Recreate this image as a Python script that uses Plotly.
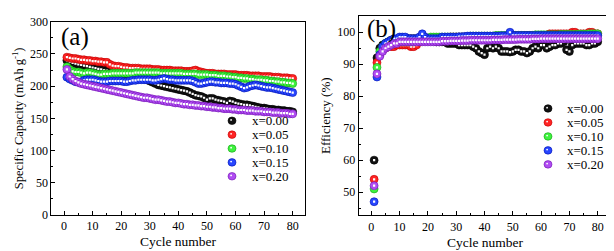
import numpy as np
import plotly.graph_objects as go

cycles = list(range(1, 81))
labels = ["x=0.00", "x=0.05", "x=0.10", "x=0.15", "x=0.20"]
colors = ["#111111", "#ff2424", "#3ef23e", "#2846ff", "#b04cf2"]
edge = ["#000000", "#c00000", "#10a010", "#0010b0", "#7010b0"]

cap_000 = [240,238,236,235,234,233,232,231,230,229,228,227,226,225,224,223,222,221,220,219,
           218,217,216,216,216,217,216,213,210,208,206,204,202,201,200,199,198,197,196,195,
           194,193,192,190,188,186,185,184,182,179,181,181,179,178,177,176,174,177,176,174,
           173,172,171,171,170,169,168,167,166,166,165,164,164,163,163,162,162,161,161,160]
cap_005 = [245,244,243,243,242,241,241,240,240,239,239,238,238,237,237,234,232,231,231,230,
           229,229,228,228,228,228,227,227,227,227,226,226,226,225,225,225,225,224,224,224,
           224,223,223,223,224,225,223,222,221,220,220,220,219,219,219,219,218,218,218,218,
           217,217,217,217,216,216,216,216,215,215,215,215,214,214,214,213,213,213,212,212]
cap_010 = [230,226,223,222,222,221,220,221,221,220,219,218,218,219,219,219,220,220,220,220,
           220,220,220,220,221,221,221,221,221,221,221,221,221,220,220,220,220,220,220,220,
           220,219,219,219,219,219,218,218,218,218,217,217,217,216,216,216,215,215,214,214,
           213,213,212,212,211,211,210,210,210,209,209,208,208,207,207,206,206,205,205,204]
cap_015 = [214,211,209,207,206,207,209,210,210,210,209,208,207,207,207,208,208,208,208,208,
           207,207,208,209,209,210,210,210,210,210,209,209,210,211,212,211,210,210,209,209,
           209,209,209,209,208,206,204,204,205,206,207,207,206,206,205,205,205,204,204,203,
           201,199,197,198,200,201,202,201,200,199,198,198,197,196,195,194,193,192,191,190]
cap_020 = [226,215,211,208,206,204,203,202,201,200,199,198,197,196,195,194,193,192,191,190,
           189,188,187,186,185,184,183,182,182,181,180,179,179,178,177,176,176,175,174,174,
           173,172,172,171,171,170,170,169,169,168,168,167,167,166,166,165,165,165,164,164,
           163,163,163,162,162,162,161,161,161,160,160,160,159,159,159,158,158,158,157,157]

eff_000 = [60,92,95,96,96.5,97,97.5,97.5,97.5,98,98,98,98,98,98,98,98,98,97.5,97.5,
           97.5,97.5,97,97,97,97,96.5,96.5,96.5,96.5,96,96,96,96,96,95.5,95,94,93.5,93,
           95,95.5,95,95.5,95,94,94,94,93.8,94,94.5,94.5,94,94,93.5,94,95,95.5,95,96,
           96,95,95.5,96,96,96.5,96.5,97,94.5,94,96,96.5,96.5,96.5,96.5,96,96,96.5,96.5,97]
eff_005 = [54,90.5,93,94.5,95,95.5,95.5,95.5,96,96,96,96,96,95.5,95.5,96,97,97.5,98,98,
           98,98,98,98,98,98,98,98.5,98.5,98.5,98.5,98.5,98.5,98.5,98.5,98.5,98.5,98.5,98.5,98.5,
           98.5,98.5,98.5,98.8,98.8,98.8,98.8,98.8,99,99,99,99,99,99,99,99,99,99,99,99,
           99,99,99.5,99.5,99.5,99.5,99.5,99.5,99.5,99.5,100,100,99.5,99.5,99.5,99.5,100,100,99.5,99.5]
eff_010 = [51,89,94,95.5,96.5,97,97,97,97,97,97,97,97,97,97,97.5,97.5,97.5,98,98,
           98.5,98.5,98.5,98.5,98.5,98.5,98.5,98.5,98.5,98.5,98.5,98.5,98.5,98.5,98.8,98.8,98.8,98.8,98.8,98.8,
           98.8,98.8,98.8,99,99,99,99,99,99,99,99,99,99,99,99,99,99,99.2,99.2,99.2,
           99.2,99.2,99.2,99.2,99.2,99.2,99.3,99.3,99.3,99.3,99.3,99.3,99.4,99.4,99.4,99.4,99.5,99.5,99.5,99.5]
eff_015 = [47,86,93,95.5,96.5,97,97.5,98,98,98.5,98.5,98.5,98,98,98,98,98.5,99.5,98.5,98,
           98,98,98,98,98.5,98.5,98.5,98.5,98.5,98.5,98.6,98.6,98.7,98.8,98.8,98.8,98.8,98.8,98.8,98.8,
           98.8,98.8,98.8,98.8,98.8,98.9,98.9,98.9,100,99,99,99,99,99,99,99,99,99,99,99,
           99,99,99,99,99,99,99,99,99,99,99,99,99,99,99,99,99,99,99,99]
eff_020 = [52,87,92.5,94,95,95.5,96,96.5,96.5,97,97,97,97,97,97,97,97,97,97,97,
           97,97,97,97,97.2,97.2,97.2,97.3,97.3,97.3,97.3,97.4,97.4,97.4,97.5,97.5,97.5,97.5,97.5,97.5,
           97.5,97.5,97.6,97.6,97.6,97.6,97.7,97.7,97.7,97.7,97.7,97.8,97.8,97.8,97.8,97.8,97.9,97.9,97.9,98,
           98,98,98,98,98,98,98,98,98,98,98,98,98,98,98,98,98,98,98,98]

cap_series = [cap_000, cap_005, cap_010, cap_015, cap_020]
eff_series = [eff_000, eff_005, eff_010, eff_015, eff_020]

x_ticks = [0, 10, 20, 30, 40, 50, 60, 70, 80]
cap_ticks = [0, 50, 100, 150, 200, 250, 300]
eff_ticks = [50, 60, 70, 80, 90, 100]

FONT = "Liberation Serif, Times New Roman, DejaVu Serif, serif"
W, H = 614, 251

fig = go.Figure()
for i in range(5):
    for series, xa, ya in [(cap_series[i], "x", "y"), (eff_series[i], "x2", "y2")]:
        fig.add_trace(go.Scatter(
            x=cycles, y=series, xaxis=xa, yaxis=ya, mode="markers", showlegend=False,
            marker=dict(size=8, color=colors[i], line=dict(color=edge[i], width=0.6))))
        fig.add_trace(go.Scatter(
            x=cycles, y=series, xaxis=xa, yaxis=ya, mode="markers", showlegend=False,
            hoverinfo="skip",
            marker=dict(size=2.2, symbol="square", color="white", line=dict(width=0))))

def px(x):
    return x / W

def py(y):
    return (H - y) / H

axis_common = dict(
    showline=True, linecolor="black", linewidth=1, mirror=True,
    ticks="inside", ticklen=4, tickwidth=1, tickcolor="black",
    showgrid=False, zeroline=False,
    tickfont=dict(family=FONT, size=12, color="black"),
)

fig.update_layout(
    width=W, height=H, margin=dict(l=0, r=0, t=0, b=0),
    paper_bgcolor="white", plot_bgcolor="white",
    font=dict(family=FONT, color="black"),
    xaxis=dict(domain=[px(43.3), px(296.7)], range=[-4.45, 84.2], anchor="y",
               tickvals=x_ticks, minor=dict(ticks="inside", ticklen=2, dtick=5, tickcolor="black"),
               title=dict(text="Cycle number", font=dict(family=FONT, size=13.5), standoff=4),
               **axis_common),
    yaxis=dict(domain=[py(211.7), py(7.2)], range=[0, 300], anchor="x",
               tickvals=cap_ticks, minor=dict(ticks="inside", ticklen=2, dtick=25, tickcolor="black"),
               title=dict(text="Specific Capacity (mAh g<sup>-1</sup>)", font=dict(family=FONT, size=12.5), standoff=3),
               **axis_common),
    xaxis2=dict(domain=[px(350.7), px(603.3)], range=[-4.45, 84.8], anchor="y2",
                tickvals=x_ticks, minor=dict(ticks="inside", ticklen=2, dtick=5, tickcolor="black"),
                title=dict(text="Cycle number", font=dict(family=FONT, size=13.5), standoff=4),
                **axis_common),
    yaxis2=dict(domain=[py(212.3), py(1)], range=[42.7, 105.1], anchor="x2",
                tickvals=eff_ticks, minor=dict(ticks="inside", ticklen=2, dtick=5, tickcolor="black"),
                title=dict(text="Efficiency (%)", font=dict(family=FONT, size=13), standoff=3),
                **axis_common),
)

annotations = [
    dict(text="(a)", x=px(51), y=py(23), xref="paper", yref="paper", xanchor="left", yanchor="middle",
         showarrow=False, font=dict(family=FONT, size=25, color="black")),
    dict(text="(b)", x=px(357), y=py(15), xref="paper", yref="paper", xanchor="left", yanchor="middle",
         showarrow=False, font=dict(family=FONT, size=25, color="black")),
]
shapes = []
legend_specs = [(224, 242, [112, 126.7, 141.4, 156.1, 170.8]),
                (540, 557, [99, 113.8, 128.6, 143.4, 158.2])]
for mx, tx, rows in legend_specs:
    for i, ry in enumerate(rows):
        r = 4
        shapes.append(dict(type="circle", xref="paper", yref="paper",
                           x0=px(mx - r), x1=px(mx + r), y0=py(ry + r), y1=py(ry - r),
                           fillcolor=colors[i], line=dict(color=edge[i], width=0.6)))
        shapes.append(dict(type="circle", xref="paper", yref="paper",
                           x0=px(mx - 1.8), x1=px(mx), y0=py(ry), y1=py(ry - 1.8),
                           fillcolor="white", line=dict(width=0)))
        annotations.append(dict(text=labels[i], x=px(tx), y=py(ry), xref="paper", yref="paper",
                                xanchor="left", yanchor="middle", showarrow=False,
                                font=dict(family=FONT, size=13, color="black")))
fig.update_layout(annotations=annotations, shapes=shapes)

fig.write_html("out.html")
